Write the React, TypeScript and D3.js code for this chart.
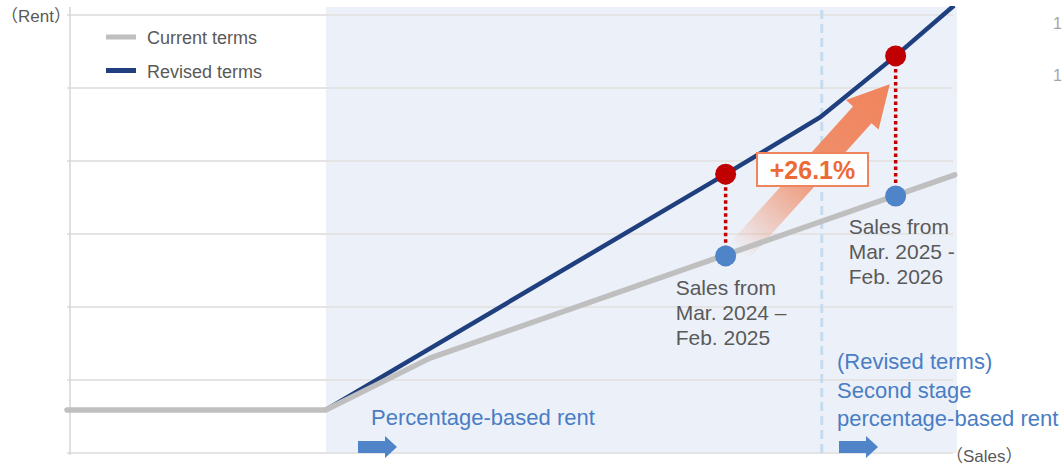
import React from "react";
import * as d3 from "d3";

// ---- data (sales index on x, rent index on y) ----
const currentTerms: [number, number][] = [
  [-0.4, 0.59],
  [34.6, 0.59],
  [48.7, 1.3],
  [119.7, 3.81],
];
const revisedTerms: [number, number][] = [
  [34.6, 0.59],
  [88.7, 3.82],
  [101.5, 4.6],
  [111.7, 5.44],
  [119.6, 6.13],
];
const compareSales = [88.7, 111.7];
const compareRevised = [3.82, 5.44];
const compareCurrent = [2.7, 3.52];
const gridValues = [0, 1, 2, 3, 4, 5, 6];
const thresholdSales = 34.63;
const stageTwoSales = 101.7;
const salesMax = 120;
const increaseLabel = "+26.1%";
const arrowFrom: [number, number] = [90.4, 2.75];
const arrowTo: [number, number] = [110.9, 5.05];
const legendItems = [
  { label: "Current terms", color: "#BFBFBF" },
  { label: "Revised terms", color: "#1F3F7E" },
];
const labelPoint1 = ["Sales from", "Mar. 2024 –", "Feb. 2025"];
const labelPoint2 = ["Sales from", "Mar. 2025 -", "Feb. 2026"];
const stageOneLabel = ["Percentage-based rent"];
const stageTwoLabel = ["(Revised terms)", "Second stage", "percentage-based rent"];
const rightEdgeLabels = ["1", "1"];
const yAxisTitle = "Rent";
const xAxisTitle = "Sales";

const W = 1063;
const H = 467;
const FONT = '"Liberation Sans", Arial, "Noto Sans CJK JP", sans-serif';
const CJK = '"Noto Sans CJK JP", "Noto Sans CJK SC", sans-serif';

export default function App() {
  const x = d3.scaleLinear().domain([0, salesMax]).range([70, 957]);
  const y = d3.scaleLinear().domain([0, 6]).range([453, 15]);

  const line = d3
    .line<[number, number]>()
    .x((d) => x(d[0]))
    .y((d) => y(d[1]));

  // orange arrow polygon
  const tx = x(arrowFrom[0]);
  const ty = y(arrowFrom[1]);
  const hx = x(arrowTo[0]);
  const hy = y(arrowTo[1]);
  const len = Math.hypot(hx - tx, hy - ty);
  const ux = (hx - tx) / len;
  const uy = (hy - ty) / len;
  const px = -uy;
  const py = ux;
  const shaftW = 25;
  const headW = 44;
  const headL = 41;
  const bx = hx - ux * headL;
  const by = hy - uy * headL;
  const pts = [
    [tx + (px * shaftW) / 2, ty + (py * shaftW) / 2],
    [bx + (px * shaftW) / 2, by + (py * shaftW) / 2],
    [bx + (px * headW) / 2, by + (py * headW) / 2],
    [hx, hy],
    [bx - (px * headW) / 2, by - (py * headW) / 2],
    [bx - (px * shaftW) / 2, by - (py * shaftW) / 2],
    [tx - (px * shaftW) / 2, ty - (py * shaftW) / 2],
  ];
  const arrowPath = "M" + pts.map((p) => p.join(",")).join("L") + "Z";

  const blueArrow = (x0: number) => {
    const yc = 447;
    return `M${x0},${yc - 6}L${x0 + 27},${yc - 6}L${x0 + 27},${yc - 11}L${x0 + 39},${yc}L${x0 + 27},${yc + 11}L${x0 + 27},${yc + 6}L${x0},${yc + 6}Z`;
  };

  const gray = "#595959";
  const blueText = "#4A7DC4";

  return (
    <svg
      width={W}
      height={H}
      style={{ position: "absolute", left: 0, top: 0, background: "#fff" }}
      fontFamily={FONT}
    >
      <defs>
        <linearGradient
          id="arrowGrad"
          gradientUnits="userSpaceOnUse"
          x1={tx}
          y1={ty}
          x2={hx}
          y2={hy}
        >
          <stop offset="0" stopColor="#F0845C" stopOpacity={0} />
          <stop offset="0.5" stopColor="#F0845C" stopOpacity={0.9} />
          <stop offset="1" stopColor="#F0845C" stopOpacity={1} />
        </linearGradient>
        <clipPath id="plotClip">
          <rect x={0} y={6} width={W} height={H} />
        </clipPath>
      </defs>

      {/* shaded percentage-based region */}
      <rect
        x={x(thresholdSales)}
        y={7}
        width={x(salesMax) - x(thresholdSales)}
        height={y(0) - 7}
        fill="#ECF1F9"
      />

      {/* gridlines */}
      {gridValues.map((g) => (
        <line
          key={g}
          x1={67}
          x2={x(salesMax) - 4}
          y1={y(g)}
          y2={y(g)}
          stroke="#E4E4E4"
          strokeWidth={2}
        />
      ))}
      {/* y axis */}
      <line x1={x(0)} x2={x(0)} y1={7} y2={455} stroke="#D6D6D6" strokeWidth={1.5} />

      {/* stage two dashed line */}
      <line
        x1={x(stageTwoSales)}
        x2={x(stageTwoSales)}
        y1={10}
        y2={456}
        stroke="#C7DBEE"
        strokeWidth={3}
        strokeDasharray="9,5"
      />

      {/* orange arrow */}
      <path d={arrowPath} fill="url(#arrowGrad)" />

      {/* lines */}
      <g clipPath="url(#plotClip)">
        <path d={line(revisedTerms) || ""} fill="none" stroke="#1F3F7E" strokeWidth={4.5} />
      </g>
      <path
        d={line(currentTerms) || ""}
        fill="none"
        stroke="#BFBFBF"
        strokeWidth={5.5}
        strokeLinecap="round"
        strokeLinejoin="round"
      />

      {/* red dotted connectors */}
      {compareSales.map((s, i) => (
        <line
          key={"c" + i}
          x1={x(s)}
          x2={x(s)}
          y1={y(compareRevised[i])}
          y2={y(compareCurrent[i])}
          stroke="#C00000"
          strokeWidth={3.5}
          strokeDasharray="3.5,3"
        />
      ))}
      {compareSales.map((s, i) => (
        <circle key={"r" + i} cx={x(s)} cy={y(compareRevised[i])} r={10.5} fill="#C00000" />
      ))}
      {compareSales.map((s, i) => (
        <circle key={"b" + i} cx={x(s)} cy={y(compareCurrent[i])} r={10.5} fill="#4F84C8" />
      ))}

      {/* +26.1% box */}
      <rect x={757} y={153} width={111} height={33} fill="#fff" stroke="#F0845C" strokeWidth={2} />
      <text
        x={812.5}
        y={179}
        textAnchor="middle"
        fontSize={25}
        fontWeight="bold"
        fill="#EC6A36"
      >
        {increaseLabel}
      </text>

      {/* point labels */}
      {labelPoint1.map((t, i) => (
        <text key={"l1" + i} x={x(compareSales[0]) - 50} y={295 + i * 25} fontSize={21} fill={gray}>
          {t}
        </text>
      ))}
      {labelPoint2.map((t, i) => (
        <text key={"l2" + i} x={x(compareSales[1]) - 47} y={234 + i * 25} fontSize={21} fill={gray}>
          {t}
        </text>
      ))}

      {/* stage labels */}
      {stageOneLabel.map((t, i) => (
        <text key={"s1" + i} x={371} y={425 + i * 28} fontSize={22} fill={blueText}>
          {t}
        </text>
      ))}
      {stageTwoLabel.map((t, i) => (
        <text key={"s2" + i} x={837} y={369 + i * 28.5} fontSize={22} fill={blueText}>
          {t}
        </text>
      ))}
      <path d={blueArrow(358)} fill="#4F84C8" />
      <path d={blueArrow(839)} fill="#4F84C8" />

      {/* axis titles */}
      <text x={1} y={22} fontSize={17} fill={gray}>
        <tspan fontFamily={CJK}>（</tspan>
        <tspan>{yAxisTitle}</tspan>
        <tspan fontFamily={CJK}>）</tspan>
      </text>
      <text x={946} y={462} fontSize={17} fill={gray}>
        <tspan fontFamily={CJK}>（</tspan>
        <tspan>{xAxisTitle}</tspan>
        <tspan fontFamily={CJK}>）</tspan>
      </text>

      {/* legend */}
      {legendItems.map((it, i) => (
        <g key={it.label}>
          <line x1={106} x2={136} y1={37 + i * 33.5} y2={37 + i * 33.5} stroke={it.color} strokeWidth={5} />
          <text x={147} y={44 + i * 33.5} fontSize={18} fill={gray}>
            {it.label}
          </text>
        </g>
      ))}

      {/* right-hand labels */}
      {rightEdgeLabels.map((t, i) => (
        <text key={"e" + i} x={1053} y={29 + i * 52} fontSize={16} fill="#A6A6A6">
          {t}
        </text>
      ))}
    </svg>
  );
}
